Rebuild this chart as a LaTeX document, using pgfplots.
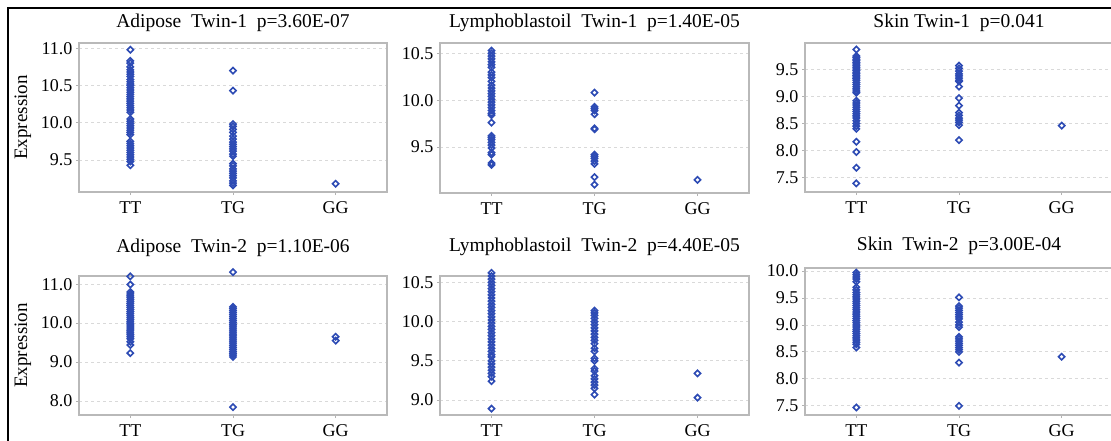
\documentclass[border=0pt]{standalone}
\usepackage{fontspec}
\setmainfont{Liberation Serif}
\usepackage{pgfplots}
\pgfplotsset{compat=1.18}
\definecolor{myblue}{RGB}{45,75,180}
\pgfplotsset{
  panel/.style={
    scale only axis,
    xmin=-0.5, xmax=2.5,
    xtick={0,1,2}, xticklabels={TT,TG,GG},
    axis line style={gray!55, line width=1.2pt},
    ymajorgrids,
    grid style={dashed, gray!30, line width=0.8pt},
    tick align=outside,
    major tick length=3pt,
    tick style={gray!60, line width=0.8pt},
    xtick pos=bottom, ytick pos=left,
    ticklabel style={font=\fontsize{18}{20}\selectfont},
    xticklabel style={yshift=-3pt},
    yticklabel style={/pgf/number format/fixed, /pgf/number format/fixed zerofill, /pgf/number format/precision=1},
    /pgf/number format/assume math mode=true,
    clip=false,
    title style={at={(0.5,1)}, anchor=base, font=\fontsize{19.5}{22}\selectfont},
    every axis y label/.style={at={(axis description cs:-0.182,0.5)}, rotate=90, anchor=center, font=\fontsize{19}{22}\selectfont},
  },
  pts/.style={only marks, mark=square, mark size=2.2pt, mark options={rotate=45, draw=myblue, line width=1.6pt, fill=none}},
}
\begin{document}
\begin{tikzpicture}
\useasboundingbox (0,0) rectangle (1111pt,-440pt);
\draw[line width=1.2pt] (8pt,-445pt) -- (8pt,-8pt) -- (1115pt,-8pt);

% Panel 1
\begin{axis}[panel, at={(79pt,-192pt)}, anchor=south west, width=308pt, height=149pt,
  ymin=9.07, ymax=11.07, ytick={9.5,10,10.5,11},
  title={Adipose\ \ Twin-1\ \ p=3.60E-07}, title style={yshift=10pt}, ylabel={Expression}]
\addplot[pts] coordinates {
(0,10.98) (0,10.83) (0,10.80) (0,10.75) (0,10.71) (0,10.68) (0,10.65) (0,10.62) (0,10.58) (0,10.55)
(0,10.52) (0,10.50) (0,10.47) (0,10.44) (0,10.41) (0,10.38) (0,10.35) (0,10.32) (0,10.29) (0,10.26)
(0,10.23) (0,10.20) (0,10.17) (0,10.14) (0,10.05) (0,10.02) (0,9.99) (0,9.96) (0,9.93) (0,9.90)
(0,9.87) (0,9.84) (0,9.75) (0,9.72) (0,9.69) (0,9.66) (0,9.63) (0,9.60) (0,9.57) (0,9.54)
(0,9.51) (0,9.48) (0,9.43)
(1,10.70) (1,10.43) (1,9.98) (1,9.95) (1,9.91) (1,9.87) (1,9.82) (1,9.78) (1,9.74) (1,9.71)
(1,9.68) (1,9.65) (1,9.62) (1,9.58) (1,9.55) (1,9.45) (1,9.42) (1,9.38) (1,9.35) (1,9.32)
(1,9.29) (1,9.26) (1,9.22) (1,9.19) (1,9.16)
(2,9.18)};
\end{axis}

% Panel 2
\begin{axis}[panel, at={(440pt,-193pt)}, anchor=south west, width=309pt, height=150pt,
  ymin=9.01, ymax=10.61, ytick={9.5,10,10.5},
  title={Lymphoblastoil\ \ Twin-1\ \ p=1.40E-05}, title style={yshift=10pt}]
\addplot[pts] coordinates {
(0,10.53) (0,10.50) (0,10.47) (0,10.44) (0,10.41) (0,10.38) (0,10.35) (0,10.30) (0,10.27) (0,10.24)
(0,10.20) (0,10.16) (0,10.13) (0,10.10) (0,10.07) (0,10.04) (0,10.01) (0,9.98) (0,9.95) (0,9.92)
(0,9.89) (0,9.86) (0,9.84) (0,9.76) (0,9.62) (0,9.60) (0,9.58) (0,9.55) (0,9.52) (0,9.49)
(0,9.44) (0,9.42) (0,9.33) (0,9.31)
(1,10.08) (1,9.93) (1,9.91) (1,9.89) (1,9.85) (1,9.70) (1,9.69) (1,9.42) (1,9.40) (1,9.38)
(1,9.35) (1,9.32) (1,9.18) (1,9.10)
(2,9.15)};
\end{axis}

% Panel 3
\begin{axis}[panel, at={(805pt,-192pt)}, anchor=south west, width=308pt, height=149pt,
  ymin=7.23, ymax=9.99, ytick={7.5,8,8.5,9,9.5},
  title={Skin Twin-1\ \ p=0.041}, title style={yshift=10pt}]
\addplot[pts] coordinates {
(0,9.87) (0,9.75) (0,9.72) (0,9.69) (0,9.66) (0,9.63) (0,9.60) (0,9.57) (0,9.54) (0,9.51)
(0,9.48) (0,9.45) (0,9.42) (0,9.39) (0,9.36) (0,9.33) (0,9.30) (0,9.26) (0,9.22) (0,9.18)
(0,9.14) (0,9.10) (0,9.07) (0,8.92) (0,8.88) (0,8.84) (0,8.80) (0,8.76) (0,8.72) (0,8.68)
(0,8.64) (0,8.60) (0,8.55) (0,8.50) (0,8.45) (0,8.40) (0,8.16) (0,7.97) (0,7.68) (0,7.39)
(1,9.57) (1,9.52) (1,9.47) (1,9.42) (1,9.38) (1,9.34) (1,9.30) (1,9.28) (1,9.18) (1,8.97)
(1,8.83) (1,8.70) (1,8.65) (1,8.60) (1,8.56) (1,8.52) (1,8.47) (1,8.19)
(2,8.46)};
\end{axis}

% Panel 4
\begin{axis}[panel, at={(79pt,-415pt)}, anchor=south west, width=308pt, height=139pt,
  ymin=7.64, ymax=11.21, ytick={8,9,10,11},
  title={Adipose\ \ Twin-2\ \ p=1.10E-06}, title style={yshift=18pt}, ylabel={Expression}]
\addplot[pts] coordinates {
(0,11.20) (0,10.99) (0,10.80) (0,10.75) (0,10.70) (0,10.65) (0,10.60) (0,10.55) (0,10.50) (0,10.45)
(0,10.40) (0,10.35) (0,10.30) (0,10.25) (0,10.20) (0,10.15) (0,10.10) (0,10.05) (0,10.00) (0,9.95)
(0,9.90) (0,9.85) (0,9.80) (0,9.75) (0,9.70) (0,9.65) (0,9.60) (0,9.52) (0,9.44) (0,9.23)
(1,11.31) (1,10.42) (1,10.37) (1,10.32) (1,10.27) (1,10.22) (1,10.17) (1,10.12) (1,10.07) (1,10.02)
(1,9.97) (1,9.92) (1,9.87) (1,9.82) (1,9.77) (1,9.72) (1,9.67) (1,9.62) (1,9.57) (1,9.52)
(1,9.47) (1,9.42) (1,9.37) (1,9.32) (1,9.27) (1,9.22) (1,9.18) (1,9.13) (1,7.84)
(2,9.65) (2,9.55)};
\end{axis}

% Panel 5
\begin{axis}[panel, at={(440pt,-415pt)}, anchor=south west, width=309pt, height=139pt,
  ymin=8.81, ymax=10.58, ytick={9,9.5,10,10.5},
  title={Lymphoblastoil\ \ Twin-2\ \ p=4.40E-05}, title style={yshift=19pt}]
\addplot[pts] coordinates {
(0,10.62) (0,10.58) (0,10.54) (0,10.50) (0,10.46) (0,10.42) (0,10.38) (0,10.34) (0,10.30) (0,10.26)
(0,10.22) (0,10.18) (0,10.14) (0,10.10) (0,10.06) (0,10.02) (0,9.98) (0,9.94) (0,9.90) (0,9.86)
(0,9.82) (0,9.78) (0,9.74) (0,9.70) (0,9.66) (0,9.62) (0,9.58) (0,9.55) (0,9.50) (0,9.46)
(0,9.42) (0,9.38) (0,9.34) (0,9.30) (0,9.24) (0,8.89)
(1,10.14) (1,10.11) (1,10.08) (1,10.04) (1,10.00) (1,9.96) (1,9.92) (1,9.88) (1,9.84) (1,9.80)
(1,9.76) (1,9.72) (1,9.66) (1,9.62) (1,9.53) (1,9.50) (1,9.40) (1,9.37) (1,9.31) (1,9.27)
(1,9.23) (1,9.19) (1,9.15) (1,9.07)
(2,9.34) (2,9.03)};
\end{axis}

% Panel 6
\begin{axis}[panel, at={(805pt,-415pt)}, anchor=south west, width=308pt, height=147pt,
  ymin=7.33, ymax=10.055, ytick={7.5,8,8.5,9,9.5,10},
  title={Skin\ \ Twin-2\ \ p=3.00E-04}, title style={yshift=12pt}]
\addplot[pts] coordinates {
(0,9.97) (0,9.93) (0,9.89) (0,9.85) (0,9.80) (0,9.70) (0,9.65) (0,9.60) (0,9.56) (0,9.52)
(0,9.48) (0,9.44) (0,9.40) (0,9.36) (0,9.32) (0,9.28) (0,9.24) (0,9.20) (0,9.16) (0,9.12)
(0,9.08) (0,9.04) (0,9.00) (0,8.96) (0,8.92) (0,8.88) (0,8.84) (0,8.80) (0,8.76) (0,8.72)
(0,8.68) (0,8.64) (0,8.58) (0,7.47)
(1,9.51) (1,9.35) (1,9.31) (1,9.27) (1,9.23) (1,9.19) (1,9.15) (1,9.11) (1,9.05) (1,9.00)
(1,8.96) (1,8.78) (1,8.74) (1,8.70) (1,8.66) (1,8.62) (1,8.58) (1,8.54) (1,8.50) (1,8.30)
(1,7.50)
(2,8.41)};
\end{axis}
\end{tikzpicture}
\end{document}
